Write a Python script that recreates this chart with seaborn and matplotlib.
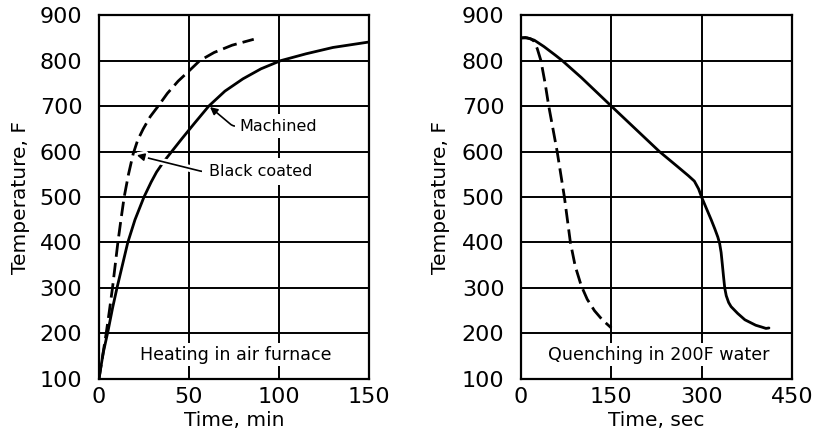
import matplotlib
matplotlib.use("Agg")
import matplotlib.pyplot as plt
import matplotlib.patheffects as pe
import pandas as pd
import seaborn as sns

# Heating in air furnace (time in min, temperature in F)
heat_machined_t = [0, 1, 2.5, 5, 7.5, 10, 13, 16, 20, 25, 29, 32, 36, 40, 46, 53, 61, 70, 80, 90, 101, 115, 130, 150]
heat_machined_T = [100, 125, 160, 205, 255, 300, 350, 400, 450, 500, 533, 555, 578, 598, 628, 662, 700, 733, 760, 782, 800, 815, 829, 841]

heat_black_t = [0, 1, 2, 4, 5.8, 7.5, 9, 10.5, 12.2, 14, 16.4, 19, 21.5, 24.6, 28.5, 32.9, 38, 44, 49.4, 56, 64, 74, 86]
heat_black_T = [100, 125, 150, 200, 250, 300, 350, 400, 450, 500, 550, 595, 625, 650, 677, 700, 728, 755, 775, 800, 818, 834, 847]

# Quenching in 200F water (time in sec, temperature in F)
quench_solid_t = [0, 7, 13, 22, 30, 38, 46, 57, 68.5, 100, 150, 190, 230, 260, 278, 288, 295, 300, 308, 316, 322, 327, 330,
                  332.5, 334.5, 336.5, 338.5, 341, 345, 349, 360, 372, 390, 400, 407, 412]
quench_solid_T = [850, 851, 849, 845, 838, 831, 823, 812, 800, 763, 700, 650, 600, 567, 547, 535, 518, 500, 475, 450, 430, 412, 398,
                  378, 352, 325, 300, 283, 268, 259, 244, 230, 218, 214, 211, 212]

quench_dash_t = [0, 10, 16, 21.5, 27, 33, 40, 46, 53, 60, 66, 72, 77, 82, 90, 100, 110, 122, 135, 150]
quench_dash_T = [850, 850, 848, 843, 826, 800, 750, 700, 650, 600, 550, 500, 450, 400, 348, 305, 275, 250, 230, 212]

temp_ticks = [100, 200, 300, 400, 500, 600, 700, 800, 900]
heat_ticks = [0, 50, 100, 150]
quench_ticks = [0, 150, 300, 450]

sns.set_theme(style="white")
plt.rcParams["font.family"] = ["DejaVu Sans"]
plt.rcParams["text.color"] = "black"

fig = plt.figure(figsize=(8.18, 4.34), dpi=100)
ax1 = fig.add_axes([0.121, 0.127, 0.330, 0.838])
ax2 = fig.add_axes([0.637, 0.127, 0.331, 0.838])

dash = (0, (5.2, 2.2))
lw = 2.0

heat_m = pd.DataFrame({"t": heat_machined_t, "T": heat_machined_T})
heat_b = pd.DataFrame({"t": heat_black_t, "T": heat_black_T})
sns.lineplot(data=heat_m, x="t", y="T", ax=ax1, color="black", lw=lw,
             estimator=None, sort=False, zorder=3, solid_joinstyle="round")
sns.lineplot(data=heat_b, x="t", y="T", ax=ax1, color="black", lw=lw,
             linestyle=dash, estimator=None, sort=False, zorder=3)

q_s = pd.DataFrame({"t": quench_solid_t, "T": quench_solid_T})
q_d = pd.DataFrame({"t": quench_dash_t, "T": quench_dash_T})
sns.lineplot(data=q_s, x="t", y="T", ax=ax2, color="black", lw=lw,
             estimator=None, sort=False, zorder=3, solid_joinstyle="round")
sns.lineplot(data=q_d, x="t", y="T", ax=ax2, color="black", lw=lw,
             linestyle=dash, estimator=None, sort=False, zorder=3)

for ax, xt, xlabel in [(ax1, heat_ticks, "Time, min"), (ax2, quench_ticks, "Time, sec")]:
    ax.set_xlim(xt[0], xt[-1])
    ax.set_ylim(temp_ticks[0], temp_ticks[-1])
    ax.set_xticks(xt)
    ax.set_yticks(temp_ticks)
    ax.set_xticklabels([str(v) for v in xt])
    ax.set_yticklabels([str(v) for v in temp_ticks])
    ax.grid(True, color="black", lw=1.4)
    ax.set_axisbelow(True)
    ax.tick_params(axis="both", length=0, labelsize=16, colors="black")
    ax.tick_params(axis="y", pad=12)
    ax.tick_params(axis="x", pad=6)
    for s in ax.spines.values():
        s.set_color("black")
        s.set_linewidth(1.6)
    ax.set_xlabel(xlabel, fontsize=14.5, color="black")
    ax.set_ylabel("Temperature, F", fontsize=14.5, color="black")
    ax.xaxis.set_label_coords(0.5, -0.088)
ax1.yaxis.set_label_coords(-0.255, 0.5)
ax2.yaxis.set_label_coords(-0.262, 0.5)

halo = [pe.withStroke(linewidth=5, foreground="white")]

ax1.annotate("Machined", xy=(61.7, 698), xytext=(78, 656), fontsize=11.5, color="black",
             ha="left", va="center",
             bbox=dict(boxstyle="square,pad=0.3", fc="white", ec="none"), zorder=5,
             arrowprops=dict(arrowstyle="-|>", color="black", lw=1.2,
                             mutation_scale=11, shrinkA=0, shrinkB=0,
                             connectionstyle="angle,angleA=0,angleB=-40,rad=3"))
ax1.annotate("Black coated", xy=(21, 592), xytext=(61, 556), fontsize=11.5, color="black",
             ha="left", va="center",
             bbox=dict(boxstyle="square,pad=0.4", fc="white", ec="none"), zorder=5,
             arrowprops=dict(arrowstyle="-|>", color="black", lw=1.2,
                             mutation_scale=11, shrinkA=0, shrinkB=0,
                             connectionstyle="angle,angleA=0,angleB=-14,rad=3",
                             path_effects=halo))

ax1.text(75.8, 153, "Heating in air furnace", fontsize=12.6, color="black",
         ha="center", va="center",
         bbox=dict(boxstyle="square,pad=0.15", fc="white", ec="none"), zorder=5)
ax2.text(228, 153, "Quenching in 200F water", fontsize=12.6, color="black",
         ha="center", va="center",
         bbox=dict(boxstyle="square,pad=0.15", fc="white", ec="none"), zorder=5)

fig.savefig("out.png", dpi=100, facecolor="white")
